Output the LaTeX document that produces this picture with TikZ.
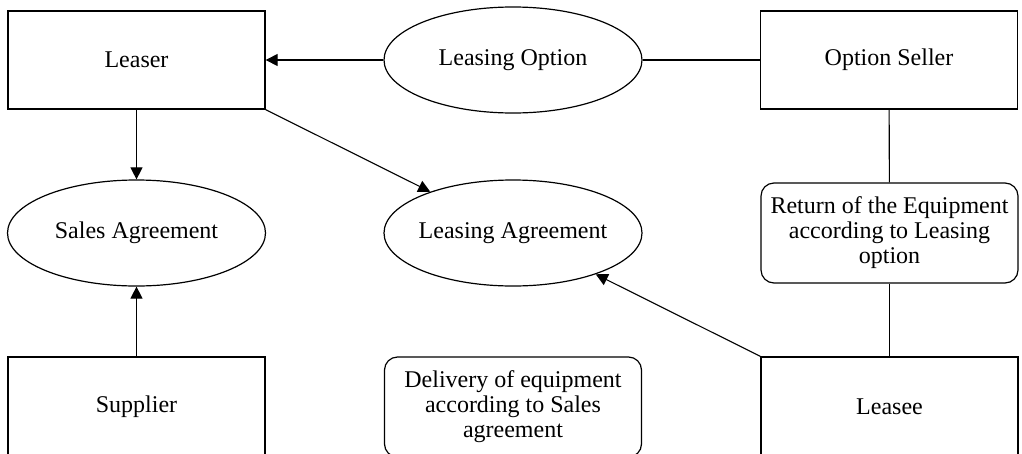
\documentclass[tikz,border=0pt]{standalone}
\usepackage{fontspec}
\setmainfont{Liberation Serif}
\usetikzlibrary{shapes.geometric,arrows.meta}
\begin{document}
\begin{tikzpicture}[x=1pt,y=-1pt,
  every node/.style={font=\fontsize{24}{25}\selectfont, align=center, inner sep=0pt},
  box/.style={draw, line width=1.3pt, rectangle, minimum width=257pt, minimum height=98pt},
  oval/.style={draw, line width=1.2pt, ellipse, inner xsep=-30pt, minimum width=258pt, minimum height=106pt},
  rbox/.style={draw, line width=1.2pt, rectangle, rounded corners=13pt, minimum width=257pt, minimum height=100pt},
  link/.style={line width=1.1pt},
  arr/.style={link, -{Triangle[length=12pt,width=12pt]}}]
\clip (0,0) rectangle (1022,453);
\node[box] (leaser) at (136.5,60) {Leaser};
\node[oval] (lo) at (513,60) {Leasing Option};
\node[box] (seller) at (889,60) {Option Seller};
\node[oval] (sa) at (136.5,233) {Sales Agreement};
\node[oval] (la) at (513,233) {Leasing Agreement};
\node[rbox] (ret) at (889.5,233) {Return of the Equipment\\according to Leasing\\option};
\node[box, minimum height=100pt] (supp) at (136.5,407) {Supplier};
\node[rbox] (deliv) at (513,407) {Delivery of equipment\\according to Sales\\agreement};
\node[box, minimum height=100pt] (leasee) at (889.5,407) {Leasee};
\draw[arr] (lo) -- (leaser);
\draw[link] (lo) -- (seller);
\draw[arr] (leaser) -- (sa);
\draw[arr] (leaser.south east) -- (la);
\draw[arr] (supp) -- (sa);
\draw[link] (seller) -- (ret);
\draw[link] (ret) -- (leasee);
\draw[arr] (leasee.north west) -- (la);
\end{tikzpicture}
\end{document}
